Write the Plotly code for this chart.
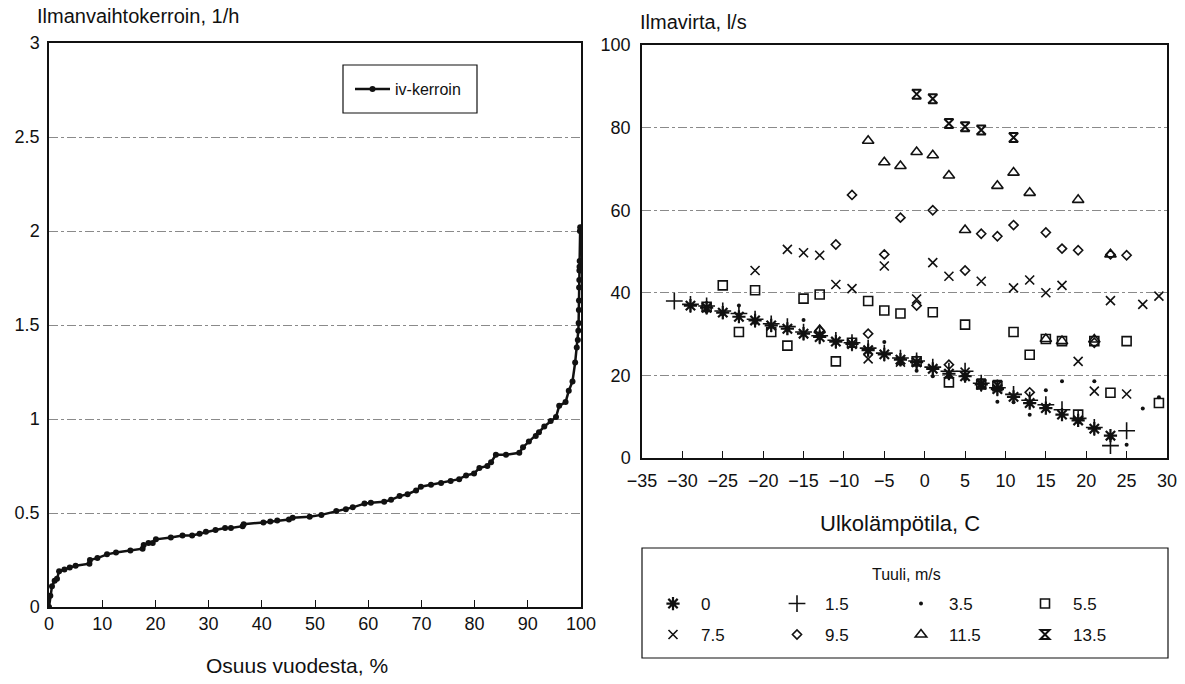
import plotly.graph_objects as go

W, H = 1185, 684
def px(x): return x / W
def py(y): return 1 - y / H

# ---------------- Left chart data: duration curve ----------------
share_pct = [0, 0.25, 0.56, 1.06, 1.5, 1.9, 2.9, 3.9, 5.0, 7.6, 7.7, 9.1, 10.9, 12.6, 15.3,
             17.6, 17.8, 18.7, 19.5, 20.1, 22.9, 25.1, 26.9, 28.3, 29.5, 31.3, 33.1, 34.2,
             36.4, 36.6, 40.3, 41.6, 42.9, 45.1, 45.8, 49.0, 51.2, 54.0, 55.8, 57.1, 59.3,
             60.5, 63.0, 64.3, 65.9, 67.4, 69.0, 69.9, 71.8, 73.7, 75.5, 77.1, 78.4, 79.9,
             80.9, 82.4, 83.1, 84.0, 85.9, 88.4, 89.1, 90.2, 91.5, 92.1, 93.1, 94.3, 95.3,
             95.9, 97.1, 97.7, 98.4, 98.9, 99.2, 99.4, 99.5, 99.55, 99.6, 99.62, 99.65,
             99.68, 99.7, 99.72, 99.75, 99.8, 99.85]
ach = [0, 0.06, 0.11, 0.14, 0.15, 0.19, 0.20, 0.21, 0.22, 0.23, 0.25, 0.26, 0.28, 0.29, 0.30,
       0.31, 0.33, 0.34, 0.34, 0.36, 0.37, 0.38, 0.38, 0.39, 0.40, 0.41, 0.42, 0.42,
       0.43, 0.44, 0.45, 0.455, 0.46, 0.465, 0.475, 0.48, 0.49, 0.51, 0.52, 0.53, 0.55,
       0.555, 0.56, 0.57, 0.59, 0.60, 0.62, 0.64, 0.65, 0.66, 0.67, 0.68, 0.70, 0.71,
       0.74, 0.75, 0.77, 0.81, 0.81, 0.82, 0.85, 0.88, 0.91, 0.93, 0.96, 0.99, 1.01,
       1.07, 1.09, 1.15, 1.20, 1.30, 1.38, 1.42, 1.47, 1.51, 1.58, 1.63, 1.70,
       1.74, 1.79, 1.81, 1.84, 2.00, 2.02]
left_xticks = [0, 10, 20, 30, 40, 50, 60, 70, 80, 90, 100]
left_yticks = [0, 0.5, 1, 1.5, 2, 2.5, 3]
left_yticklabels = ["0", "0.5", "1", "1.5", "2", "2.5", "3"]

# ---------------- Right chart data: air flow vs outdoor temperature ----------------
t_0 = [-29, -27, -25, -23, -21, -19, -17, -15, -13, -11, -9, -7, -5, -3, -1, 1, 3, 5, 7, 9, 11, 13, 15, 17, 19, 21, 23]
v_0 = [36.9, 36.4, 35.2, 34.2, 33.3, 32.1, 31.3, 30.1, 29.3, 28.2, 27.6, 26.1, 25.1, 23.8, 23.2, 21.6, 20.4, 19.8, 17.8, 16.7, 14.8, 13.3, 12.1, 10.5, 9.1, 7.1, 5.4]

t_15 = [-31, -29, -27, -25, -23, -21, -19, -17, -15, -13, -11, -9, -7, -5, -3, -1, 1, 3, 5, 7, 9, 11, 13, 15, 17, 19, 21, 23, 25]
v_15 = [38.0, 37.2, 36.8, 35.6, 35.0, 33.6, 32.5, 31.8, 30.5, 29.6, 28.5, 27.9, 26.6, 25.4, 24.2, 23.5, 22.0, 21.0, 21.0, 18.1, 17.0, 15.4, 14.0, 12.9, 11.7, 9.6, 7.4, 3.0, 6.6]

t_35 = [-27, -25, -23, -21, -19, -17, -15, -13, -11, -9, -7, -5, -3, -1, 1, 3, 5, 7, 9, 11, 13, 15, 17, 19, 21, 23, 25, 27, 29]
v_35 = [35.5, 34.8, 36.9, 32.6, 31.8, 31.0, 33.4, 29.0, 27.8, 27.2, 25.6, 28.1, 22.8, 21.1, 19.8, 19.6, 19.0, 17.3, 13.6, 13.5, 10.5, 16.4, 18.6, 8.6, 18.6, 4.8, 3.2, 12.0, 14.7]

t_55 = [-27, -25, -23, -21, -19, -17, -15, -13, -11, -9, -7, -5, -3, -1, 1, 3, 5, 7, 9, 11, 13, 15, 17, 19, 21, 23, 25, 29]
v_55 = [36.6, 41.8, 30.5, 40.6, 30.5, 27.2, 38.6, 39.6, 23.4, 27.9, 38.0, 35.7, 35.0, 23.4, 35.3, 18.3, 32.3, 17.8, 17.4, 30.5, 25.0, 28.8, 28.3, 10.5, 28.3, 15.8, 28.3, 13.3]

t_75 = [-21, -17, -15, -13, -11, -9, -7, -5, -3, -1, 1, 3, 5, 7, 9, 11, 13, 15, 17, 19, 21, 23, 25, 27, 29]
v_75 = [45.4, 50.5, 49.7, 49.1, 42.0, 41.0, 24.0, 46.5, 23.2, 38.5, 47.3, 44.0, 20.8, 42.8, 16.7, 41.2, 43.1, 40.0, 41.8, 23.4, 16.2, 38.1, 15.5, 37.2, 39.2]

t_95 = [-13, -11, -9, -7, -5, -3, -1, 1, 3, 5, 7, 9, 11, 13, 15, 17, 19, 21, 23, 25]
v_95 = [30.9, 51.7, 63.7, 30.1, 49.3, 58.2, 36.9, 60.0, 22.6, 45.4, 54.3, 53.7, 56.4, 15.9, 54.6, 50.7, 50.3, 27.9, 49.3, 49.1]

t_115 = [-13, -7, -5, -3, -1, 1, 3, 5, 9, 11, 13, 15, 17, 19, 21, 23]
v_115 = [31.0, 76.8, 71.6, 70.7, 74.1, 73.3, 68.4, 55.2, 65.9, 69.1, 64.2, 28.8, 28.3, 62.5, 28.7, 49.3]

t_135 = [-1, 1, 3, 5, 7, 11, 7, 9]
v_135 = [88.1, 87.0, 81.0, 80.2, 79.4, 77.6, 18.0, 17.6]

right_xticks = list(range(-35, 31, 5))
right_yticks = [0, 20, 40, 60, 80, 100]

wind_names = ["0", "1.5", "3.5", "5.5", "7.5", "9.5", "11.5", "13.5"]

FONT = "Liberation Sans"
INK = "#111111"
GRID = "#8a8a8a"

fig = go.Figure()

fig.add_trace(go.Scatter(
    x=share_pct, y=ach, mode="lines+markers", name="iv-kerroin",
    line=dict(color=INK, width=2.5), marker=dict(color=INK, size=6),
    xaxis="x", yaxis="y", legend="legend", showlegend=True))

series = [
    (t_0, v_0, "asterisk-open", 11, 2.2, "legend2"),
    (t_15, v_15, "cross-thin-open", 12, 1.6, "legend2"),
    (t_35, v_35, "circle", 4, 0, "legend2"),
    (t_55, v_55, "square-open", 9, 1.6, "legend2"),
    (t_75, v_75, "x-thin-open", 9, 1.6, "legend3"),
    (t_95, v_95, "diamond-open", 7, 1.6, "legend3"),
    (t_115, v_115, "triangle-up-open", 10, 1.6, "legend3"),
    (t_135, v_135, "hourglass-open", 9, 2.0, "legend3"),
]
for (t, v, sym, size, lw, leg), name in zip(series, wind_names):
    fig.add_trace(go.Scatter(
        x=t, y=v, mode="markers", name=name,
        marker=dict(symbol=sym, size=size, color=INK, line=dict(color=INK, width=lw)),
        xaxis="x2", yaxis="y2", legend=leg, showlegend=True))

tickfont = dict(family=FONT, size=18, color=INK)
common_axis = dict(showline=True, linecolor=INK, linewidth=1.5, mirror=True,
                   zeroline=False, tickfont=tickfont, automargin=False)

leg_common = dict(orientation="h", xanchor="left", yanchor="middle",
                  entrywidth=63, entrywidthmode="pixels", itemwidth=46,
                  bgcolor="rgba(0,0,0,0)", borderwidth=0,
                  font=dict(family=FONT, size=17, color=INK))

fig.update_layout(
    width=W, height=H,
    margin=dict(l=0, r=0, t=0, b=0),
    paper_bgcolor="white", plot_bgcolor="white",
    font=dict(family=FONT, color=INK),
    xaxis=dict(domain=[px(49), px(581)], range=[0, 100], tickvals=left_xticks,
               ticks="inside", ticklen=7, tickcolor=INK, showgrid=False,
               ticklabelstandoff=0, anchor="y", **common_axis),
    yaxis=dict(domain=[py(607), py(43)], range=[0, 3], tickvals=left_yticks,
               ticktext=left_yticklabels, ticks="", showgrid=True, gridcolor=GRID,
               griddash="dashdot", gridwidth=1, ticklabelstandoff=4, anchor="x", **common_axis),
    xaxis2=dict(domain=[px(642), px(1167)], range=[-35, 30], tickvals=right_xticks,
                ticks="inside", ticklen=7, tickcolor=INK, showgrid=False,
                ticklabelstandoff=6, anchor="y2", **common_axis),
    yaxis2=dict(domain=[py(458), py(45)], range=[0, 100], tickvals=right_yticks,
                ticks="", showgrid=True, gridcolor=GRID, griddash="dashdot",
                gridwidth=1, ticklabelstandoff=6, anchor="x2", **common_axis),
    legend=dict(x=px(350), y=py(89), xanchor="left", yanchor="middle",
                itemwidth=35, bgcolor="rgba(0,0,0,0)", borderwidth=0,
                font=dict(family=FONT, size=16, color=INK)),
    legend2=dict(x=px(645), y=py(604), **leg_common),
    legend3=dict(x=px(645), y=py(635), **leg_common),
    shapes=[
        dict(type="rect", xref="paper", yref="paper", x0=px(343), x1=px(477),
             y0=py(113), y1=py(65), line=dict(color=INK, width=1.2)),
        dict(type="rect", xref="paper", yref="paper", x0=px(642), x1=px(1168),
             y0=py(658), y1=py(548), line=dict(color=INK, width=1.2)),
    ],
    annotations=[
        dict(text="Ilmanvaihtokerroin, 1/h", x=px(35), y=py(16), xref="paper", yref="paper",
             xanchor="left", yanchor="middle", showarrow=False,
             font=dict(family=FONT, size=20, color=INK)),
        dict(text="Ilmavirta, l/s", x=px(638), y=py(22), xref="paper", yref="paper",
             xanchor="left", yanchor="middle", showarrow=False,
             font=dict(family=FONT, size=20, color=INK)),
        dict(text="Osuus vuodesta, %", x=px(297), y=py(665), xref="paper", yref="paper",
             xanchor="center", yanchor="middle", showarrow=False,
             font=dict(family=FONT, size=21, color=INK)),
        dict(text="Ulkolämpötila, C", x=px(900), y=py(523), xref="paper", yref="paper",
             xanchor="center", yanchor="middle", showarrow=False,
             font=dict(family=FONT, size=22, color=INK)),
        dict(text="Tuuli, m/s", x=px(906), y=py(574), xref="paper", yref="paper",
             xanchor="center", yanchor="middle", showarrow=False,
             font=dict(family=FONT, size=16, color=INK)),
    ],
)

fig.write_html("out.html")
